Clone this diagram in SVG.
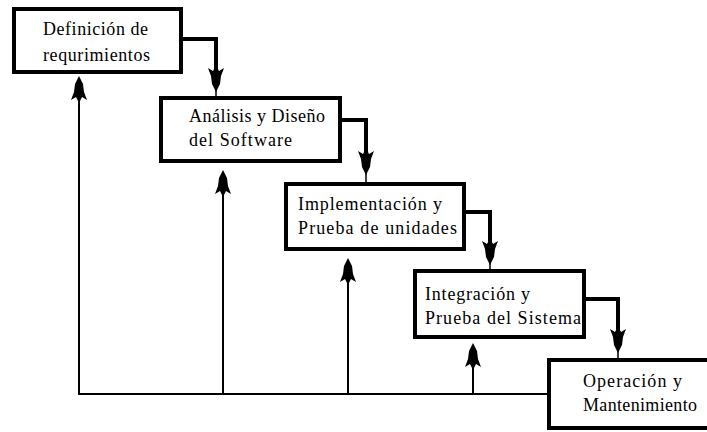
<svg xmlns="http://www.w3.org/2000/svg" xmlns:xlink="http://www.w3.org/1999/xlink" width="707" height="432" viewBox="0 0 707 432">
<style>
.box{fill:#fff;stroke:#000;stroke-width:4}
.t{font-family:'Liberation Serif','Times New Roman',serif;font-size:18px;fill:#000}
.thick{fill:none;stroke:#000;stroke-width:4;stroke-linejoin:miter}
.thin{fill:none;stroke:#000;stroke-width:2}
.stem{fill:none;stroke:#000;stroke-width:1.5}
</style>
<defs>
<path id="up" d="M0,0 L4,8 L5,16 L8,24 L3,21 L1,25 L-1,25 L-3,21 L-8,24 L-5,16 L-4,8 Z" fill="#000"/>
</defs>
<rect width="707" height="432" fill="#fff"/>
<g id="connectors">
<path class="thick" d="M183,39 H216 V74"/>
<line class="stem" x1="216" y1="88" x2="216" y2="96"/>
<use xlink:href="#up" transform="translate(216,92) rotate(180)"/>
<path class="thick" d="M342,120 H366 V158"/>
<line class="stem" x1="366" y1="170" x2="366" y2="182"/>
<use xlink:href="#up" transform="translate(366,175) rotate(180)"/>
<path class="thick" d="M466,212 H490 V250"/>
<line class="stem" x1="490" y1="260" x2="490" y2="269"/>
<use xlink:href="#up" transform="translate(490,265) rotate(180)"/>
<path class="thick" d="M586,299 H618 V336"/>
<line class="stem" x1="618" y1="348" x2="618" y2="358"/>
<use xlink:href="#up" transform="translate(618,353) rotate(180)"/>
<path class="thin" d="M547,394 H79 V90"/>
<line class="thin" x1="223" y1="394" x2="223" y2="185"/>
<line class="thin" x1="348" y1="394" x2="348" y2="272"/>
<line class="thin" x1="473" y1="394" x2="473" y2="358"/>
<use xlink:href="#up" transform="translate(79,76)"/>
<use xlink:href="#up" transform="translate(223,170)"/>
<use xlink:href="#up" transform="translate(348,258)"/>
<use xlink:href="#up" transform="translate(473,343)"/>
</g>
<g id="n1">
<rect class="box" x="14" y="9" width="167" height="63"/>
<text class="t" x="43" y="35" textLength="105" lengthAdjust="spacing">Definición de</text>
<text class="t" x="43" y="61" textLength="107" lengthAdjust="spacing">requrimientos</text>
</g>
<g id="n2">
<rect class="box" x="161" y="98" width="179" height="63"/>
<text class="t" x="189" y="122" textLength="136" lengthAdjust="spacing">Análisis y Diseño</text>
<text class="t" x="189" y="146" textLength="103" lengthAdjust="spacing">del Software</text>
</g>
<g id="n3">
<rect class="box" x="286" y="184" width="178" height="65"/>
<text class="t" x="298" y="210" textLength="144" lengthAdjust="spacing">Implementación y</text>
<text class="t" x="298" y="234" textLength="159" lengthAdjust="spacing">Prueba de unidades</text>
</g>
<g id="n4">
<rect class="box" x="415" y="271" width="169" height="66"/>
<text class="t" x="425" y="300" textLength="105" lengthAdjust="spacing">Integración y</text>
<text class="t" x="425" y="324" textLength="156" lengthAdjust="spacing">Prueba del Sistema</text>
</g>
<g id="n5">
<rect class="box" x="549" y="360" width="200" height="68"/>
<text class="t" x="583" y="387" textLength="99" lengthAdjust="spacing">Operación y</text>
<text class="t" x="583" y="411" textLength="114" lengthAdjust="spacing">Mantenimiento</text>
</g>
</svg>
